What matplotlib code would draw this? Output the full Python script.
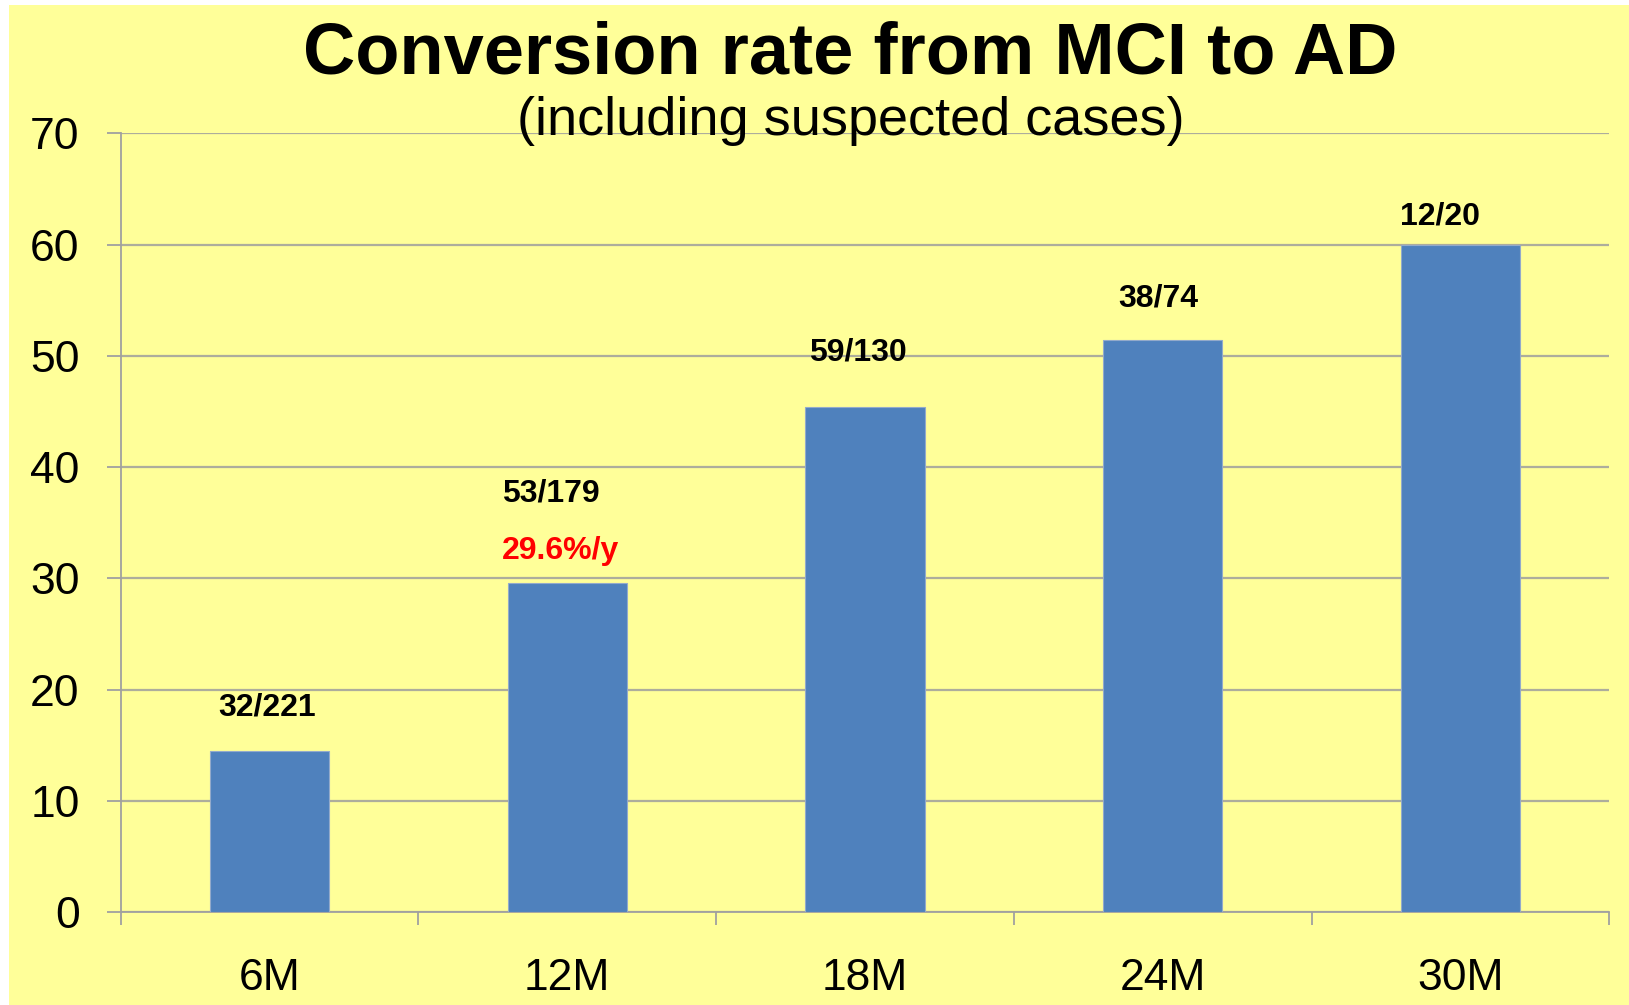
import matplotlib
matplotlib.use('Agg')
import matplotlib.pyplot as plt
from matplotlib.patches import Rectangle
import numpy as np

# data
periods = ['6M', '12M', '18M', '24M', '30M']
rates = [14.5, 29.6, 45.4, 51.4, 60.0]
counts = ['32/221', '53/179', '59/130', '38/74', '12/20']
annual_note = '29.6%/y'

# label offsets above bar top (points), x shift (points)
label_dy = [31, 64, 39, 30, 20]
label_dx = [-2, -12, -5, -3, -15]

plt.rcParams['font.family'] = ['Liberation Sans', 'DejaVu Sans']

fig = plt.figure(figsize=(16.29, 10.05), dpi=100)
fig.patch.set_facecolor('white')
# yellow slide background, thin white strip at top and left
fig.patches.append(Rectangle((9 / 1629, 0), 1, 1 - 5 / 1005, transform=fig.transFigure,
                             facecolor='#FFFF99', edgecolor='none', zorder=-10))

ax = fig.add_axes([120.7 / 1629, 93 / 1005, (1609.3 - 120.7) / 1629, (912 - 133.3) / 1005])
ax.set_facecolor('none')

x = np.arange(len(periods))
bars = ax.bar(x, rates, width=0.4, color='#4F81BD', edgecolor='#93AACB', linewidth=0.8, zorder=3)

ax.set_xlim(-0.5, len(periods) - 0.5)
ax.set_ylim(0, 70)
ax.set_yticks(np.arange(0, 71, 10))
ax.set_xticks(x)
ax.set_xticklabels(periods)
ax.set_xticks(np.arange(-0.5, len(periods), 1), minor=True)

ax.grid(axis='y', color='#ADAD9C', linewidth=1.6, zorder=1)
for s in ['top', 'right']:
    ax.spines[s].set_visible(False)
for s in ['left', 'bottom']:
    ax.spines[s].set_color('#A0A0A0')
    ax.spines[s].set_linewidth(1.3)

ax.tick_params(axis='y', which='major', length=10, width=1.3, color='#A0A0A0',
               labelsize=32, pad=19.5)
ax.tick_params(axis='x', which='major', length=0, labelsize=32, pad=33)
ax.tick_params(axis='x', which='minor', length=9, width=1.3, color='#A0A0A0')

for b, txt, dy, dx in zip(bars, counts, label_dy, label_dx):
    ax.annotate(txt, (b.get_x() + b.get_width() / 2, b.get_height()),
                xytext=(dx, dy), textcoords='offset points', ha='center', va='center',
                fontsize=23, fontweight='bold', color='black')

# red annual rate under the 12M label
b12 = bars[1]
ax.annotate(annual_note, (b12.get_x() + b12.get_width() / 2, b12.get_height()),
            xytext=(-5, 23), textcoords='offset points', ha='center', va='center',
            fontsize=23, fontweight='bold', color='#FF0000')

fig.text(850 / 1629, 1 - 73 / 1005, 'Conversion rate from MCI to AD', ha='center', va='baseline',
         fontsize=52, fontweight='bold')
fig.text(851 / 1629, 1 - 135 / 1005, '(including suspected cases)', ha='center', va='baseline',
         fontsize=39)

plt.savefig('out.png', dpi=100, facecolor=fig.get_facecolor())
